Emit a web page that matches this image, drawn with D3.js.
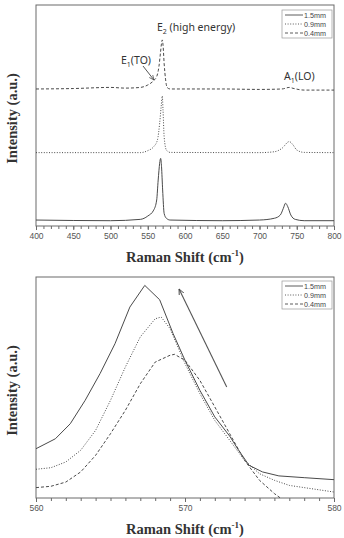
<!DOCTYPE html>
<html><head><meta charset="utf-8">
<script src="https://cdn.jsdelivr.net/npm/d3@7"></script>
<style>body{margin:0;background:#fff}svg{display:block}</style>
</head><body>
<script>
// ---- Data: top panel (full spectrum, offset stacked) ----
const topX1 = [400,500,540,550,558,562,564,566,567.3,568.5,570,572,575,580,650,700,720,728,732,735,738,742,748,760,800];
const topY1 = [2.7,2.4,3.0,4.5,7.2,11.8,20.8,28.4,30.6,26.8,16.3,5.7,3.5,2.7,2.4,2.7,3.5,5.0,8.0,10.3,8.7,5.0,3.0,2.4,2.4];
const topX2 = [400,540,550,558,563,566,568,569.5,570.5,572,575,580,700,720,730,740,745,750,760,800];
const topY2 = [33.2,33.2,34.1,35.9,38.9,46.5,54.0,58.8,52.5,40.4,34.4,33.3,33.2,33.6,35.1,38.2,36.7,34.4,33.3,33.2];
const topX3 = [400,450,500,520,540,550,558,562,565,567,568.5,569.5,570.5,572,574,576,580,650,700,730,740,745,760,800];
const topY3 = [62.0,62.2,62.7,62.4,62.7,63.8,65.8,67.6,72.1,78.1,82.7,84.2,81.9,73.6,66.1,62.7,62.0,62.0,61.8,62.0,62.7,62.3,61.5,61.5];
// ---- Data: bottom panel (zoom on E2 peak) ----
const botX1 = [560,561.3,562.3,563.3,564.3,565.3,566.3,567.3,568.3,569.2,570,571,572,573,573.6,574.3,575.2,576.3,578,580];
const botY1 = [22.3,26.8,33.6,44.2,56.3,69.8,86.4,96.2,89.7,74.4,62.3,48.7,36.7,28.0,21.6,14.8,11.8,10.0,9.2,8.3];
const botX2 = [560,561,562,563,564,565,566,567,568,568.4,569,570,571,572,573,574,575,576,577,578,580];
const botY2 = [13.0,13.7,16.3,21.6,30.6,44.2,59.3,72.9,81.1,81.9,76.6,60.8,47.2,35.1,26.1,17.0,11.0,8.0,5.7,4.7,2.7];
const botX3 = [560,561,562,563,564,565,566,567,568,569,569.3,570,571,572,573,574,575,576,576.4,577];
const botY3 = [4.7,5.3,7.2,11.8,19.3,29.1,39.7,51.7,61.5,64.6,65.0,62.3,53.2,41.2,29.1,17.0,8.0,2.0,0,-4];
const seriesNames = ["1.5mm","0.9mm","0.4mm"];
const topTicks = [400,450,500,550,600,650,700,750,800];
const botTicks = [560,570,580];

const dashes = [null, "1,1.6", "3,2"];
const lineCol = "#4a4a4a", frameCol = "#6a6a6a", textCol = "#555";

const W = 344, H = 538;
const svg = d3.select("body").append("svg").attr("width", W).attr("height", H);

function panel(cfg) {
  const x = d3.scaleLinear().domain(cfg.xdom).range([36, 334]);
  const y = d3.scaleLinear().domain([0, 100]).range([cfg.bottom, cfg.top]);
  const g = svg.append("g");
  const clipId = "clip" + cfg.id;
  svg.append("clipPath").attr("id", clipId).append("rect")
    .attr("x", 36).attr("y", cfg.top).attr("width", 298).attr("height", cfg.bottom - cfg.top);
  const minorAxis = d3.axisBottom(x).tickValues(d3.range(cfg.xdom[0], cfg.xdom[1] + 1e-9, cfg.minor))
    .tickSize(3).tickFormat("");
  g.append("g").attr("transform", `translate(0,${cfg.bottom})`).call(minorAxis)
    .call(a => a.select(".domain").remove())
    .selectAll("line").attr("stroke", frameCol);
  const majorAxis = d3.axisBottom(x).tickValues(cfg.ticks).tickSize(4).tickPadding(3);
  g.append("g").attr("transform", `translate(0,${cfg.bottom})`).call(majorAxis)
    .call(a => a.select(".domain").remove())
    .call(a => a.selectAll("line").attr("stroke", frameCol))
    .call(a => a.selectAll("text").attr("fill", textCol).attr("font-family", "Liberation Sans, Arial").attr("font-size", 8.5));
  g.append("rect").attr("x", 36).attr("y", cfg.top).attr("width", 298).attr("height", cfg.bottom - cfg.top)
    .attr("fill", "none").attr("stroke", frameCol).attr("stroke-width", 1);
  const line = d3.line().x(d => x(d[0])).y(d => y(d[1])).curve(cfg.curve);
  cfg.series.forEach((s, i) => {
    g.append("path").datum(d3.zip(s[0], s[1])).attr("d", line)
      .attr("clip-path", `url(#${clipId})`)
      .attr("fill", "none").attr("stroke", lineCol).attr("stroke-width", 1)
      .attr("stroke-dasharray", dashes[i]);
  });
  const lg = g.append("g");
  lg.append("rect").attr("x", 282).attr("y", cfg.legTop).attr("width", 50).attr("height", 28)
    .attr("fill", "#fff").attr("stroke", "#999").attr("stroke-width", 0.7);
  seriesNames.forEach((n, i) => {
    const yy = cfg.legTop + 5 + i * 9;
    lg.append("line").attr("x1", 285).attr("x2", 303).attr("y1", yy).attr("y2", yy)
      .attr("stroke", lineCol).attr("stroke-width", 0.9).attr("stroke-dasharray", dashes[i]);
    lg.append("text").attr("x", 304).attr("y", yy + 2.5).text(n)
      .attr("font-family", "Liberation Sans, Arial").attr("font-size", 7.2).attr("fill", "#444");
  });
  const xt = g.append("text").attr("x", 185).attr("y", cfg.bottom + 36).attr("text-anchor", "middle")
    .attr("font-family", "Liberation Serif, Times New Roman").attr("font-weight", "bold").attr("font-size", 14.5).attr("fill", "#333");
  xt.append("tspan").text("Raman Shift (cm");
  xt.append("tspan").text("-1").attr("font-size", 9).attr("dy", -6);
  xt.append("tspan").text(")").attr("dy", 6);
  g.append("text").attr("transform", `translate(17,${(cfg.top + cfg.bottom) / 2 + 3}) rotate(-90)`)
    .attr("text-anchor", "middle").attr("font-family", "Liberation Serif, Times New Roman")
    .attr("font-weight", "bold").attr("font-size", 14.5).attr("fill", "#333").text("Intensity (a.u.)");
  return {x, y, g};
}

const topP = panel({id: "t", xdom: [400, 800], minor: 10, ticks: topTicks, top: 5, bottom: 226, legTop: 10,
  curve: d3.curveMonotoneX, series: [[topX1, topY1], [topX2, topY2], [topX3, topY3]]});
const botP = panel({id: "b", xdom: [560, 580], minor: 1, ticks: botTicks, top: 277, bottom: 498, legTop: 281,
  curve: d3.curveLinear, series: [[botX1, botY1], [botX2, botY2], [botX3, botY3]]});

const defs = svg.append("defs");
defs.append("marker").attr("id", "ah").attr("viewBox", "0 0 10 10").attr("refX", 9).attr("refY", 5)
  .attr("markerWidth", 6).attr("markerHeight", 6).attr("orient", "auto")
  .append("path").attr("d", "M0,1 L9,5 L0,9").attr("fill", "none").attr("stroke", "#444").attr("stroke-width", 1.3);

const annFont = "Noto Sans, Open Sans, sans-serif";
function sub(main, s, rest, x, yv) {
  const el = svg.append("text").attr("x", x).attr("y", yv).attr("font-family", annFont).attr("font-size", 10.5).attr("fill", "#333");
  el.append("tspan").text(main);
  el.append("tspan").text(s).attr("font-size", 7).attr("dy", 2.5);
  el.append("tspan").text(rest).attr("dy", -2.5);
}
sub("E", "2", " (high energy)", 157, 31);
sub("E", "1", "(TO)", 121, 64);
sub("A", "1", "(LO)", 284, 80);

svg.append("line").attr("x1", 143).attr("y1", 66).attr("x2", 154).attr("y2", 80)
  .attr("stroke", "#444").attr("stroke-width", 0.9).attr("marker-end", "url(#ah)");
svg.append("line").attr("x1", botP.x(572.8)).attr("y1", 387).attr("x2", botP.x(569.6)).attr("y2", 289)
  .attr("stroke", "#555").attr("stroke-width", 1.1).attr("marker-end", "url(#ah)");
</script>
</body></html>
